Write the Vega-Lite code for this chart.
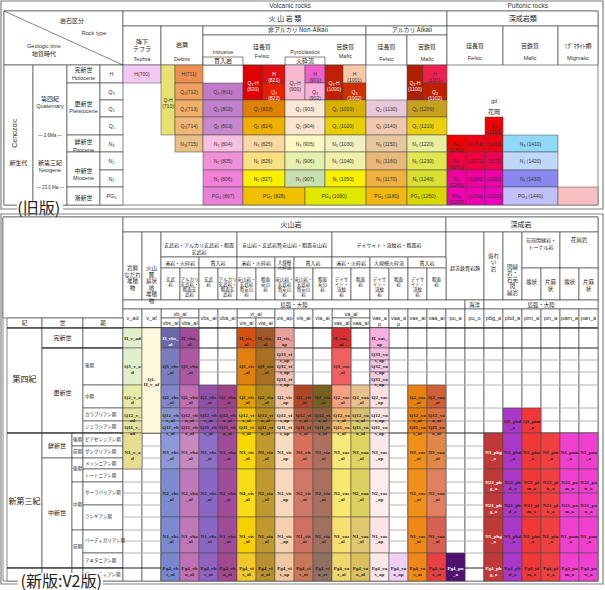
{
"$schema": "https://vega.github.io/schema/vega-lite/v6.json",
"padding": 0,
"spacing": 0,
"bounds": "flush",
"background": "white",
"config": {"view": {"stroke": null}},
"resolve": {"scale": {"x": "independent", "y": "independent", "fill": "independent"}},
"datasets": {
"oBox": [
{"x":0,"x2":22,"y":0,"y2":12},
{"x":0,"x2":4,"y":0,"y2":4},
{"x":4,"x2":17,"y":0,"y2":1},
{"x":17,"x2":22,"y":0,"y2":1},
{"x":4,"x2":5,"y":1,"y2":4},
{"x":5,"x2":7,"y":1,"y2":4},
{"x":7,"x2":14,"y":1,"y2":2},
{"x":14,"x2":17,"y":1,"y2":2},
{"x":7,"x2":14,"y":2,"y2":4},
{"x":7,"x2":8,"y":3,"y2":4},
{"x":10,"x2":12,"y":3,"y2":4},
{"x":14,"x2":15,"y":2,"y2":4},
{"x":15,"x2":17,"y":2,"y2":4},
{"x":17,"x2":20,"y":1,"y2":4},
{"x":20,"x2":21,"y":1,"y2":4},
{"x":21,"x2":22,"y":1,"y2":4},
{"x":0,"x2":1,"y":4,"y2":12},
{"x":1,"x2":2,"y":4,"y2":12},
{"x":2,"x2":3,"y":4,"y2":5},
{"x":2,"x2":3,"y":5,"y2":8},
{"x":2,"x2":3,"y":8,"y2":9},
{"x":2,"x2":3,"y":9,"y2":11},
{"x":2,"x2":3,"y":11,"y2":12},
{"x":3,"x2":4,"y":4,"y2":5},
{"x":3,"x2":4,"y":5,"y2":6},
{"x":3,"x2":4,"y":6,"y2":7},
{"x":3,"x2":4,"y":7,"y2":8},
{"x":3,"x2":4,"y":8,"y2":9},
{"x":3,"x2":4,"y":9,"y2":10},
{"x":3,"x2":4,"y":10,"y2":11},
{"x":3,"x2":4,"y":11,"y2":12}
],
"oCell": [
{"x":4,"x2":5,"y":4,"y2":5,"u":"700","t":"H(700)"},
{"x":5,"x2":6,"y":4,"y2":8,"u":"710","t":"Q-H\n(710)"},
{"x":6,"x2":7,"y":4,"y2":5,"u":"711","t":"H(711)"},
{"x":6,"x2":7,"y":5,"y2":6,"u":"712","t":"Q₃(712)"},
{"x":6,"x2":7,"y":6,"y2":7,"u":"713","t":"Q₂(713)"},
{"x":6,"x2":7,"y":7,"y2":8,"u":"714","t":"Q₁(714)"},
{"x":6,"x2":7,"y":8,"y2":9,"u":"715","t":"N₃(715)"},
{"x":7,"x2":8,"y":5,"y2":6,"u":"801","t":"Q₃ (801)"},
{"x":7,"x2":8,"y":6,"y2":7,"u":"802","t":"Q₂ (802)"},
{"x":7,"x2":8,"y":7,"y2":8,"u":"803","t":"Q₁ (803)"},
{"x":7,"x2":8,"y":8,"y2":9,"u":"804","t":"N₃ (804)"},
{"x":7,"x2":8,"y":9,"y2":10,"u":"805","t":"N₂ (805)"},
{"x":7,"x2":8,"y":10,"y2":11,"u":"806","t":"N₁ (806)"},
{"x":7,"x2":8,"y":11,"y2":12,"u":"807","t":"PG₄ (807)"},
{"x":8,"x2":9,"y":4,"y2":6,"u":"820","t":"Q₃-H\n(820)"},
{"x":9,"x2":10,"y":4,"y2":5,"u":"821","t":"H\n(821)"},
{"x":9,"x2":10,"y":5,"y2":6,"u":"822","t":"Q₃\n(822)"},
{"x":8,"x2":10,"y":6,"y2":7,"u":"823","t":"Q₂ (823)"},
{"x":8,"x2":10,"y":7,"y2":8,"u":"824","t":"Q₁ (824)"},
{"x":8,"x2":10,"y":8,"y2":9,"u":"825","t":"N₃ (825)"},
{"x":8,"x2":10,"y":9,"y2":10,"u":"826","t":"N₂ (826)"},
{"x":8,"x2":10,"y":10,"y2":11,"u":"827","t":"N₁ (827)"},
{"x":8,"x2":11,"y":11,"y2":12,"u":"828","t":"PG₄ (828)"},
{"x":10,"x2":11,"y":4,"y2":6,"u":"900","t":"Q₃-H\n(900)"},
{"x":11,"x2":12,"y":4,"y2":5,"u":"901","t":"H\n(901)"},
{"x":11,"x2":12,"y":5,"y2":6,"u":"902","t":"Q₃\n(902)"},
{"x":10,"x2":12,"y":6,"y2":7,"u":"903","t":"Q₂ (903)"},
{"x":10,"x2":12,"y":7,"y2":8,"u":"904","t":"Q₁ (904)"},
{"x":10,"x2":12,"y":8,"y2":9,"u":"905","t":"N₃ (905)"},
{"x":10,"x2":12,"y":9,"y2":10,"u":"906","t":"N₂ (906)"},
{"x":10,"x2":12,"y":10,"y2":11,"u":"907","t":"N₁ (907)"},
{"x":12,"x2":13,"y":4,"y2":6,"u":"1000","t":"Q₃-H\n(1000)"},
{"x":13,"x2":14,"y":4,"y2":5,"u":"1001","t":"H\n(1001)"},
{"x":13,"x2":14,"y":5,"y2":6,"u":"1002","t":"Q₃\n(1002)"},
{"x":12,"x2":14,"y":6,"y2":7,"u":"1010","t":"Q₂ (1010)"},
{"x":12,"x2":14,"y":7,"y2":8,"u":"1020","t":"Q₁ (1020)"},
{"x":12,"x2":14,"y":8,"y2":9,"u":"1030","t":"N₃ (1030)"},
{"x":12,"x2":14,"y":9,"y2":10,"u":"1040","t":"N₂ (1040)"},
{"x":12,"x2":14,"y":10,"y2":11,"u":"1050","t":"N₁ (1050)"},
{"x":11,"x2":14,"y":11,"y2":12,"u":"1060","t":"PG₄ (1060)"},
{"x":14,"x2":15,"y":6,"y2":7,"u":"1130","t":"Q₂ (1130)"},
{"x":14,"x2":15,"y":7,"y2":8,"u":"1140","t":"Q₁ (1140)"},
{"x":14,"x2":15,"y":8,"y2":9,"u":"1150","t":"N₃ (1150)"},
{"x":14,"x2":15,"y":9,"y2":10,"u":"1160","t":"N₂ (1160)"},
{"x":14,"x2":15,"y":10,"y2":11,"u":"1170","t":"N₁ (1170)"},
{"x":14,"x2":15,"y":11,"y2":12,"u":"1180","t":"PG₄ (1180)"},
{"x":15,"x2":16,"y":4,"y2":6,"u":"1100","t":"Q₃-H\n(1100)"},
{"x":16,"x2":17,"y":4,"y2":5,"u":"1101","t":"H\n(1101)"},
{"x":16,"x2":17,"y":5,"y2":6,"u":"1102","t":"Q₃\n(1102)"},
{"x":15,"x2":17,"y":6,"y2":7,"u":"1200","t":"Q₂ (1200)"},
{"x":15,"x2":17,"y":7,"y2":8,"u":"1210","t":"Q₁ (1210)"},
{"x":15,"x2":17,"y":8,"y2":9,"u":"1220","t":"N₃ (1220)"},
{"x":15,"x2":17,"y":9,"y2":10,"u":"1230","t":"N₂ (1230)"},
{"x":15,"x2":17,"y":10,"y2":11,"u":"1240","t":"N₁ (1240)"},
{"x":15,"x2":17,"y":11,"y2":12,"u":"1250","t":"PG₄ (1250)"},
{"x":19,"x2":20,"y":7,"y2":8,"u":"1263","t":"Q₁\n(1263)"},
{"x":17,"x2":18,"y":8,"y2":9,"u":"1260","t":"N₃\n(1260)"},
{"x":18,"x2":19,"y":8,"y2":9,"u":"1261","t":"(1261)"},
{"x":19,"x2":20,"y":8,"y2":9,"u":"1262","t":"(1262)"},
{"x":17,"x2":18,"y":9,"y2":10,"u":"1270","t":"N₂\n(1270)"},
{"x":18,"x2":19,"y":9,"y2":10,"u":"1271","t":"(1271)"},
{"x":19,"x2":20,"y":9,"y2":10,"u":"1272","t":"(1272)"},
{"x":17,"x2":18,"y":10,"y2":11,"u":"1280","t":"N₁\n(1280)"},
{"x":18,"x2":19,"y":10,"y2":11,"u":"1281","t":"(1281)"},
{"x":19,"x2":20,"y":10,"y2":11,"u":"1282","t":"(1282)"},
{"x":17,"x2":18,"y":11,"y2":12,"u":"1290","t":"PG₄\n(1290)"},
{"x":18,"x2":19,"y":11,"y2":12,"u":"1291","t":"(1291)"},
{"x":19,"x2":20,"y":11,"y2":12,"u":"1292","t":"(1292)"},
{"x":20,"x2":21,"y":8,"y2":9,"u":"1410","t":"N₃  (1410)"},
{"x":20,"x2":21,"y":9,"y2":10,"u":"1420","t":"N₂  (1420)"},
{"x":20,"x2":21,"y":10,"y2":11,"u":"1430","t":"N₁  (1430)"},
{"x":20,"x2":21,"y":11,"y2":12,"u":"1440","t":"PG₄ (1440)"},
{"x":21,"x2":22,"y":11,"y2":12,"u":"mig","t":""}
],
"ot": [
{"x":10.25,"y":-0.5,"t":"Volcanic rocks","k":"T"},
{"x":20.45,"y":-0.5,"t":"Pultonic rocks","k":"T"},
{"x":10,"y":0.53,"t":"火 山 岩 類","k":"H"},
{"x":20.36,"y":0.53,"t":"深成岩類","k":"H"},
{"x":2.15,"y":0.67,"t":"岩石区分","k":"h"},
{"x":2.82,"y":1.78,"t":"Rock type","k":"e"},
{"x":1.32,"y":2.5,"t":"Geologic time","k":"e"},
{"x":1.32,"y":2.86,"t":"地質時代","k":"h"},
{"x":4.5,"y":2.3,"t":"降下","k":"h"},
{"x":4.5,"y":2.64,"t":"テフラ","k":"h"},
{"x":4.5,"y":3.25,"t":"Tephra","k":"e"},
{"x":6.25,"y":2.45,"t":"岩屑","k":"h"},
{"x":6.25,"y":3.25,"t":"Debris","k":"e"},
{"x":10.65,"y":1.4,"t":"非アルカリ Non-Alkali","k":"h"},
{"x":15.31,"y":1.4,"t":"アルカリ Alkali","k":"h"},
{"x":7.5,"y":2.77,"t":"Intrusive","k":"e"},
{"x":7.5,"y":3.5,"t":"貫入岩","k":"h"},
{"x":8.95,"y":2.55,"t":"珪長質","k":"h"},
{"x":8.95,"y":2.95,"t":"Felsic","k":"e"},
{"x":11,"y":2.77,"t":"Pyroclastics","k":"e"},
{"x":11,"y":3.5,"t":"火砕流","k":"h"},
{"x":13.1,"y":2.55,"t":"苦鉄質","k":"h"},
{"x":13.1,"y":2.95,"t":"Mafic","k":"e"},
{"x":14.5,"y":2.55,"t":"珪長質","k":"h"},
{"x":14.5,"y":3.25,"t":"Felsic","k":"e"},
{"x":16.17,"y":2.55,"t":"苦鉄質","k":"h"},
{"x":16.17,"y":3.25,"t":"Mafic","k":"e"},
{"x":18.47,"y":2.5,"t":"珪長質","k":"h"},
{"x":18.47,"y":3.12,"t":"Felsic","k":"e"},
{"x":20.49,"y":2.5,"t":"苦鉄質","k":"h"},
{"x":20.49,"y":3.12,"t":"Mafic","k":"e"},
{"x":21.5,"y":2.5,"t":"ﾐｸﾞﾏﾀｲﾄ類","k":"h"},
{"x":21.5,"y":3.12,"t":"Migmatic","k":"e"},
{"x":2.5,"y":4.28,"t":"完新世","k":"h"},
{"x":2.5,"y":4.72,"t":"Holocene","k":"e"},
{"x":2.5,"y":6.24,"t":"更新世","k":"h"},
{"x":2.5,"y":6.65,"t":"Pleistocene","k":"e"},
{"x":2.5,"y":8.41,"t":"鮮新世","k":"h"},
{"x":2.5,"y":8.88,"t":"Pliocene","k":"e"},
{"x":2.5,"y":10.06,"t":"中新世","k":"h"},
{"x":2.5,"y":10.47,"t":"Miocene","k":"e"},
{"x":2.5,"y":11.6,"t":"漸新世","k":"h"},
{"x":1.5,"y":5.94,"t":"第四紀","k":"h"},
{"x":1.5,"y":6.35,"t":"Quaternary","k":"e"},
{"x":1.5,"y":9.59,"t":"新第三紀","k":"h"},
{"x":1.5,"y":10,"t":"Neogene","k":"e"},
{"x":1.5,"y":8.06,"t":"— 2.6Ma —","k":"s"},
{"x":1.5,"y":11.06,"t":"— 23.0 Ma —","k":"s"},
{"x":0.38,"y":7.9,"t":"Cenozoic","k":"r"},
{"x":0.5,"y":9.59,"t":"新生代","k":"h"},
{"x":3.5,"y":4.5,"t":"H","k":"e"},
{"x":3.5,"y":5.5,"t":"Q₃","k":"e"},
{"x":3.5,"y":6.5,"t":"Q₂","k":"e"},
{"x":3.5,"y":7.5,"t":"Q₁","k":"e"},
{"x":3.5,"y":8.5,"t":"N₃","k":"e"},
{"x":3.5,"y":9.5,"t":"N₂","k":"e"},
{"x":3.5,"y":10.5,"t":"N₁","k":"e"},
{"x":3.5,"y":11.5,"t":"PG₄","k":"e"},
{"x":19.5,"y":6.08,"t":"gd","k":"e"},
{"x":19.5,"y":6.7,"t":"花岡","k":"h"}
],
"nBox": [
{"x":-4,"x2":25,"y":0,"y2":25},
{"x":-4,"x2":0,"y":0,"y2":5},
{"x":0,"x2":17,"y":0,"y2":1},
{"x":17,"x2":25,"y":0,"y2":1},
{"x":0,"x2":1,"y":1,"y2":3},
{"x":1,"x2":2,"y":1,"y2":3},
{"x":2,"x2":6,"y":1,"y2":2},
{"x":6,"x2":11,"y":1,"y2":2},
{"x":11,"x2":17,"y":1,"y2":2},
{"x":17,"x2":19,"y":1,"y2":3},
{"x":19,"x2":20,"y":1,"y2":3},
{"x":20,"x2":21,"y":1,"y2":3},
{"x":21,"x2":23,"y":1,"y2":2.5},
{"x":23,"x2":25,"y":1,"y2":2.5},
{"x":2,"x2":4,"y":2,"y2":2.5},
{"x":4,"x2":6,"y":2,"y2":2.5},
{"x":6,"x2":8,"y":2,"y2":2.5},
{"x":8,"x2":9,"y":2,"y2":2.5},
{"x":9,"x2":11,"y":2,"y2":2.5},
{"x":11,"x2":13,"y":2,"y2":2.5},
{"x":13,"x2":15,"y":2,"y2":2.5},
{"x":15,"x2":17,"y":2,"y2":2.5},
{"x":2,"x2":3,"y":2.5,"y2":3},
{"x":3,"x2":4,"y":2.5,"y2":3},
{"x":4,"x2":5,"y":2.5,"y2":3},
{"x":5,"x2":6,"y":2.5,"y2":3},
{"x":6,"x2":7,"y":2.5,"y2":3},
{"x":7,"x2":8,"y":2.5,"y2":3},
{"x":8,"x2":9,"y":2.5,"y2":3},
{"x":9,"x2":10,"y":2.5,"y2":3},
{"x":10,"x2":11,"y":2.5,"y2":3},
{"x":11,"x2":12,"y":2.5,"y2":3},
{"x":12,"x2":13,"y":2.5,"y2":3},
{"x":13,"x2":14,"y":2.5,"y2":3},
{"x":14,"x2":15,"y":2.5,"y2":3},
{"x":15,"x2":16,"y":2.5,"y2":3},
{"x":16,"x2":17,"y":2.5,"y2":3},
{"x":21,"x2":22,"y":2.5,"y2":3},
{"x":22,"x2":23,"y":2.5,"y2":3},
{"x":23,"x2":24,"y":2.5,"y2":3},
{"x":24,"x2":25,"y":2.5,"y2":3},
{"x":0,"x2":18,"y":3,"y2":4},
{"x":18,"x2":19,"y":3,"y2":4},
{"x":19,"x2":25,"y":3,"y2":4},
{"x":2,"x2":4,"y":4,"y2":5},
{"x":6,"x2":8,"y":4,"y2":5},
{"x":11,"x2":13,"y":4,"y2":5},
{"x":2,"x2":3,"y":5,"y2":6},
{"x":3,"x2":4,"y":5,"y2":6},
{"x":6,"x2":7,"y":5,"y2":6},
{"x":7,"x2":8,"y":5,"y2":6},
{"x":11,"x2":12,"y":5,"y2":6},
{"x":12,"x2":13,"y":5,"y2":6},
{"x":0,"x2":1,"y":4,"y2":6},
{"x":1,"x2":2,"y":4,"y2":6},
{"x":4,"x2":5,"y":4,"y2":6},
{"x":5,"x2":6,"y":4,"y2":6},
{"x":8,"x2":9,"y":4,"y2":6},
{"x":9,"x2":10,"y":4,"y2":6},
{"x":10,"x2":11,"y":4,"y2":6},
{"x":13,"x2":14,"y":4,"y2":6},
{"x":14,"x2":15,"y":4,"y2":6},
{"x":15,"x2":16,"y":4,"y2":6},
{"x":16,"x2":17,"y":4,"y2":6},
{"x":17,"x2":18,"y":4,"y2":6},
{"x":18,"x2":19,"y":4,"y2":6},
{"x":19,"x2":20,"y":4,"y2":6},
{"x":20,"x2":21,"y":4,"y2":6},
{"x":21,"x2":22,"y":4,"y2":6},
{"x":22,"x2":23,"y":4,"y2":6},
{"x":23,"x2":24,"y":4,"y2":6},
{"x":24,"x2":25,"y":4,"y2":6},
{"x":-3,"x2":-2,"y":5,"y2":6},
{"x":-2,"x2":-1,"y":5,"y2":6},
{"x":-1,"x2":0,"y":5,"y2":6},
{"x":-3,"x2":-2,"y":6,"y2":13},
{"x":-3,"x2":-2,"y":13,"y2":24},
{"x":-3,"x2":-2,"y":24,"y2":25},
{"x":-2,"x2":-1,"y":6,"y2":7},
{"x":-1,"x2":0,"y":6,"y2":7},
{"x":-2,"x2":-1,"y":7,"y2":13},
{"x":-1,"x2":0,"y":7,"y2":10},
{"x":-1,"x2":0,"y":10,"y2":11},
{"x":-1,"x2":0,"y":11,"y2":12},
{"x":-1,"x2":0,"y":12,"y2":13},
{"x":-2,"x2":-1.5,"y":13,"y2":15},
{"x":-1.5,"x2":-1,"y":13,"y2":14},
{"x":-1.5,"x2":-1,"y":14,"y2":15},
{"x":-1,"x2":0,"y":13,"y2":14},
{"x":-1,"x2":0,"y":14,"y2":15},
{"x":-2,"x2":-1.5,"y":15,"y2":24},
{"x":-1.5,"x2":-1,"y":15,"y2":17},
{"x":-1.5,"x2":-1,"y":17,"y2":21},
{"x":-1.5,"x2":-1,"y":21,"y2":24},
{"x":-1,"x2":0,"y":15,"y2":16},
{"x":-1,"x2":0,"y":16,"y2":17},
{"x":-1,"x2":0,"y":17,"y2":19},
{"x":-1,"x2":0,"y":19,"y2":21},
{"x":-1,"x2":0,"y":21,"y2":23},
{"x":-1,"x2":0,"y":23,"y2":24},
{"x":-2,"x2":-1.5,"y":24,"y2":25},
{"x":-1.5,"x2":-1,"y":24,"y2":25},
{"x":-1,"x2":0,"y":24,"y2":25},
{"x":0,"x2":1,"y":6,"y2":25},
{"x":1,"x2":2,"y":6,"y2":25},
{"x":2,"x2":3,"y":6,"y2":25},
{"x":3,"x2":4,"y":6,"y2":25},
{"x":4,"x2":5,"y":6,"y2":25},
{"x":5,"x2":6,"y":6,"y2":25},
{"x":6,"x2":7,"y":6,"y2":25},
{"x":7,"x2":8,"y":6,"y2":25},
{"x":8,"x2":9,"y":6,"y2":25},
{"x":9,"x2":10,"y":6,"y2":25},
{"x":10,"x2":11,"y":6,"y2":25},
{"x":11,"x2":12,"y":6,"y2":25},
{"x":12,"x2":13,"y":6,"y2":25},
{"x":13,"x2":14,"y":6,"y2":25},
{"x":14,"x2":15,"y":6,"y2":25},
{"x":15,"x2":16,"y":6,"y2":25},
{"x":16,"x2":17,"y":6,"y2":25},
{"x":17,"x2":18,"y":6,"y2":25},
{"x":18,"x2":19,"y":6,"y2":25},
{"x":19,"x2":20,"y":6,"y2":25},
{"x":20,"x2":21,"y":6,"y2":25},
{"x":21,"x2":22,"y":6,"y2":25},
{"x":22,"x2":23,"y":6,"y2":25},
{"x":23,"x2":24,"y":6,"y2":25},
{"x":24,"x2":25,"y":6,"y2":25}
],
"nGrid": [
{"x":0,"x2":25,"y":8},{"x":0,"x2":25,"y":9},{"x":0,"x2":25,"y":10},{"x":0,"x2":25,"y":11},{"x":0,"x2":25,"y":12},
{"x":0,"x2":25,"y":14},{"x":0,"x2":25,"y":15},{"x":0,"x2":25,"y":16},{"x":0,"x2":25,"y":17},{"x":0,"x2":25,"y":18},
{"x":0,"x2":25,"y":19},{"x":0,"x2":25,"y":20},{"x":0,"x2":25,"y":21},{"x":0,"x2":25,"y":22},{"x":0,"x2":25,"y":23}
],
"nRule": [
{"x":-3,"x2":25,"y":6},{"x":-2,"x2":25,"y":7},{"x":-3,"x2":25,"y":13},{"x":-3,"x2":25,"y":24}
],
"nCell": [
{"x":0,"x2":1,"y":6,"y2":7,"u":"H_v_ad","t":"H_v_ad"},
{"x":0,"x2":1,"y":7,"y2":10,"u":"Q3_v_ad","t":"Q3_v_a\nd"},
{"x":0,"x2":1,"y":10,"y2":11,"u":"Q2_v_ad","t":"Q2_v_a\nd"},
{"x":0,"x2":1,"y":11,"y2":12,"u":"Q12_v_ad","t":"Q12_v_\nad"},
{"x":0,"x2":1,"y":12,"y2":13,"u":"Q11_v_ad","t":"Q11_v_\nad"},
{"x":0,"x2":1,"y":13,"y2":16,"u":"N3_v_ad","t":"N3_v_a\nd"},
{"x":1,"x2":2,"y":6,"y2":13,"u":"Q1-H_v_af","t":"Q1-\nH_v_af"},
{"x":2,"x2":3,"y":6,"y2":7,"u":"H_vbs_al","t":"H_vbs_\nal"},
{"x":2,"x2":3,"y":7,"y2":10,"u":"Q3_vbs_al","t":"Q3_vbs\n_al"},
{"x":2,"x2":3,"y":10,"y2":11,"u":"Q2_vbs_al","t":"Q2_vbs\n_al"},
{"x":2,"x2":3,"y":11,"y2":12,"u":"Q12_vbs_al","t":"Q12_vb\ns_al"},
{"x":2,"x2":3,"y":12,"y2":13,"u":"Q11_vbs_al","t":"Q11_vb\ns_al"},
{"x":2,"x2":3,"y":13,"y2":16,"u":"N3_vbs_al","t":"N3_vbs\n_al"},
{"x":2,"x2":3,"y":16,"y2":20,"u":"N2_vbs_al","t":"N2_vbs\n_al"},
{"x":2,"x2":3,"y":20,"y2":23,"u":"N1_vbs_al","t":"N1_vbs\n_al"},
{"x":2,"x2":3,"y":23,"y2":25,"u":"Pg4_vbs_al","t":"Pg4_vb\ns_al"},
{"x":3,"x2":4,"y":6,"y2":7,"u":"H_vba_al","t":"H_vba_\nal"},
{"x":3,"x2":4,"y":7,"y2":10,"u":"Q3_vba_al","t":"Q3_vba\n_al"},
{"x":3,"x2":4,"y":10,"y2":11,"u":"Q2_vba_al","t":"Q2_vba\n_al"},
{"x":3,"x2":4,"y":11,"y2":12,"u":"Q12_vba_al","t":"Q12_vb\na_al"},
{"x":3,"x2":4,"y":12,"y2":13,"u":"Q11_vba_al","t":"Q11_vb\na_al"},
{"x":3,"x2":4,"y":13,"y2":16,"u":"N3_vba_al","t":"N3_vba\n_al"},
{"x":3,"x2":4,"y":16,"y2":20,"u":"N2_vba_al","t":"N2_vba\n_al"},
{"x":3,"x2":4,"y":20,"y2":23,"u":"N1_vba_al","t":"N1_vba\n_al"},
{"x":3,"x2":4,"y":23,"y2":25,"u":"Pg4_vba_al","t":"Pg4_vb\na_al"},
{"x":4,"x2":5,"y":10,"y2":11,"u":"Q2_vbs_ai","t":"Q2_vbs\n_ai"},
{"x":4,"x2":5,"y":11,"y2":12,"u":"Q12_vbs_ai","t":"Q12_vb\ns_ai"},
{"x":4,"x2":5,"y":12,"y2":13,"u":"Q11_vbs_ai","t":"Q11_vb\ns_ai"},
{"x":4,"x2":5,"y":13,"y2":16,"u":"N3_vbs_ai","t":"N3_vbs\n_ai"},
{"x":4,"x2":5,"y":16,"y2":20,"u":"N2_vbs_ai","t":"N2_vbs\n_ai"},
{"x":4,"x2":5,"y":20,"y2":23,"u":"N1_vbs_ai","t":"N1_vbs\n_ai"},
{"x":4,"x2":5,"y":23,"y2":25,"u":"Pg4_vbs_ai","t":"Pg4_vb\ns_ai"},
{"x":5,"x2":6,"y":10,"y2":11,"u":"Q2_vba_ai","t":"Q2_vba\n_ai"},
{"x":5,"x2":6,"y":11,"y2":12,"u":"Q12_vba_ai","t":"Q12_vb\na_ai"},
{"x":5,"x2":6,"y":12,"y2":13,"u":"Q11_vba_ai","t":"Q11_vb\na_ai"},
{"x":5,"x2":6,"y":13,"y2":16,"u":"N3_vba_ai","t":"N3_vba\n_ai"},
{"x":5,"x2":6,"y":16,"y2":20,"u":"N2_vba_ai","t":"N2_vba\n_ai"},
{"x":5,"x2":6,"y":20,"y2":23,"u":"N1_vba_ai","t":"N1_vba\n_ai"},
{"x":5,"x2":6,"y":23,"y2":25,"u":"Pg4_vba_ai","t":"Pg4_vb\na_ai"},
{"x":6,"x2":7,"y":6,"y2":7,"u":"H_vis_al","t":"H_vis_\nal"},
{"x":6,"x2":7,"y":7,"y2":10,"u":"Q3_vis_al","t":"Q3_vis\n_al"},
{"x":6,"x2":7,"y":10,"y2":11,"u":"Q2_vis_al","t":"Q2_vis\n_al"},
{"x":6,"x2":7,"y":11,"y2":12,"u":"Q12_vis_al","t":"Q12_vi\ns_al"},
{"x":6,"x2":7,"y":12,"y2":13,"u":"Q11_vis_al","t":"Q11_vi\ns_al"},
{"x":6,"x2":7,"y":13,"y2":16,"u":"N3_vis_al","t":"N3_vis\n_al"},
{"x":6,"x2":7,"y":16,"y2":20,"u":"N2_vis_al","t":"N2_vis\n_al"},
{"x":6,"x2":7,"y":20,"y2":23,"u":"N1_vis_al","t":"N1_vis\n_al"},
{"x":6,"x2":7,"y":23,"y2":25,"u":"Pg4_vis_al","t":"Pg4_vi\ns_al"},
{"x":7,"x2":8,"y":6,"y2":7,"u":"H_via_al","t":"H_via_\nal"},
{"x":7,"x2":8,"y":7,"y2":10,"u":"Q3_via_al","t":"Q3_via\n_al"},
{"x":7,"x2":8,"y":10,"y2":11,"u":"Q2_via_al","t":"Q2_via\n_al"},
{"x":7,"x2":8,"y":11,"y2":12,"u":"Q12_via_al","t":"Q12_vi\na_al"},
{"x":7,"x2":8,"y":12,"y2":13,"u":"Q11_via_al","t":"Q11_vi\na_al"},
{"x":7,"x2":8,"y":13,"y2":16,"u":"N3_via_al","t":"N3_via\n_al"},
{"x":7,"x2":8,"y":16,"y2":20,"u":"N2_via_al","t":"N2_via\n_al"},
{"x":7,"x2":8,"y":20,"y2":23,"u":"N1_via_al","t":"N1_via\n_al"},
{"x":7,"x2":8,"y":23,"y2":25,"u":"Pg4_via_al","t":"Pg4_vi\na_al"},
{"x":8,"x2":9,"y":6,"y2":7,"u":"H_vis_ap","t":"H_vis_\nap"},
{"x":8,"x2":9,"y":7,"y2":8,"u":"Q33_vis_ap","t":"Q33_vi\ns_ap"},
{"x":8,"x2":9,"y":8,"y2":9,"u":"Q32_vis_ap","t":"Q32_vi\ns_ap"},
{"x":8,"x2":9,"y":9,"y2":10,"u":"Q31_vis_ap","t":"Q31_vi\ns_ap"},
{"x":8,"x2":9,"y":10,"y2":11,"u":"Q2_vis_ap","t":"Q2_vis\n_ap"},
{"x":8,"x2":9,"y":11,"y2":12,"u":"Q12_vis_ap","t":"Q12_vi\ns_ap"},
{"x":8,"x2":9,"y":12,"y2":13,"u":"Q11_vis_ap","t":"Q11_vi\ns_ap"},
{"x":8,"x2":9,"y":13,"y2":16,"u":"N3_vis_ap","t":"N3_vis\n_ap"},
{"x":8,"x2":9,"y":16,"y2":20,"u":"N2_vis_ap","t":"N2_vis\n_ap"},
{"x":8,"x2":9,"y":20,"y2":23,"u":"N1_vis_ap","t":"N1_vis\n_ap"},
{"x":8,"x2":9,"y":23,"y2":25,"u":"Pg4_vis_ap","t":"Pg4_vi\ns_ap"},
{"x":9,"x2":10,"y":10,"y2":11,"u":"Q2_vis_ai","t":"Q2_vis\n_ai"},
{"x":9,"x2":10,"y":11,"y2":12,"u":"Q12_vis_ai","t":"Q12_vi\ns_ai"},
{"x":9,"x2":10,"y":12,"y2":13,"u":"Q11_vis_ai","t":"Q11_vi\ns_ai"},
{"x":9,"x2":10,"y":13,"y2":16,"u":"N3_vis_ai","t":"N3_vis\n_ai"},
{"x":9,"x2":10,"y":16,"y2":20,"u":"N2_vis_ai","t":"N2_vis\n_ai"},
{"x":9,"x2":10,"y":20,"y2":23,"u":"N1_vis_ai","t":"N1_vis\n_ai"},
{"x":9,"x2":10,"y":23,"y2":25,"u":"Pg4_vis_ai","t":"Pg4_vi\ns_ai"},
{"x":10,"x2":11,"y":10,"y2":11,"u":"Q2_via_ai","t":"Q2_via\n_ai"},
{"x":10,"x2":11,"y":11,"y2":12,"u":"Q12_via_ai","t":"Q12_vi\na_ai"},
{"x":10,"x2":11,"y":12,"y2":13,"u":"Q11_via_ai","t":"Q11_vi\na_ai"},
{"x":10,"x2":11,"y":13,"y2":16,"u":"N3_via_ai","t":"N3_via\n_ai"},
{"x":10,"x2":11,"y":16,"y2":20,"u":"N2_via_ai","t":"N2_via\n_ai"},
{"x":10,"x2":11,"y":20,"y2":23,"u":"N1_via_ai","t":"N1_via\n_ai"},
{"x":10,"x2":11,"y":23,"y2":25,"u":"Pg4_via_ai","t":"Pg4_vi\na_ai"},
{"x":11,"x2":12,"y":6,"y2":7,"u":"H_vas_al","t":"H_vas_\nal"},
{"x":11,"x2":12,"y":7,"y2":10,"u":"Q3_vas_al","t":"Q3_vas\n_al"},
{"x":11,"x2":12,"y":10,"y2":11,"u":"Q2_vas_al","t":"Q2_vas\n_al"},
{"x":11,"x2":12,"y":11,"y2":12,"u":"Q12_vas_al","t":"Q12_va\ns_al"},
{"x":11,"x2":12,"y":12,"y2":13,"u":"Q11_vas_al","t":"Q11_va\ns_al"},
{"x":11,"x2":12,"y":13,"y2":16,"u":"N3_vas_al","t":"N3_vas\n_al"},
{"x":11,"x2":12,"y":16,"y2":20,"u":"N2_vas_al","t":"N2_vas\n_al"},
{"x":11,"x2":12,"y":20,"y2":23,"u":"N1_vas_al","t":"N1_vas\n_al"},
{"x":11,"x2":12,"y":23,"y2":25,"u":"Pg4_vas_al","t":"Pg4_va\ns_al"},
{"x":12,"x2":13,"y":10,"y2":11,"u":"Q2_vaa_al","t":"Q2_vaa\n_al"},
{"x":12,"x2":13,"y":11,"y2":12,"u":"Q12_vaa_al","t":"Q12_va\na_al"},
{"x":12,"x2":13,"y":12,"y2":13,"u":"Q11_vaa_al","t":"Q11_va\na_al"},
{"x":12,"x2":13,"y":13,"y2":16,"u":"N3_vaa_al","t":"N3_vaa\n_al"},
{"x":12,"x2":13,"y":16,"y2":20,"u":"N2_vaa_al","t":"N2_vaa\n_al"},
{"x":12,"x2":13,"y":20,"y2":23,"u":"N1_vaa_al","t":"N1_vaa\n_al"},
{"x":12,"x2":13,"y":23,"y2":25,"u":"Pg4_vaa_al","t":"Pg4_va\na_al"},
{"x":13,"x2":14,"y":6,"y2":7,"u":"H_vas_ap","t":"H_vas_\nap"},
{"x":13,"x2":14,"y":7,"y2":8,"u":"Q33_vas_ap","t":"Q33_va\ns_ap"},
{"x":13,"x2":14,"y":8,"y2":9,"u":"Q32_vas_ap","t":"Q32_va\ns_ap"},
{"x":13,"x2":14,"y":9,"y2":10,"u":"Q31_vas_ap","t":"Q31_va\ns_ap"},
{"x":13,"x2":14,"y":10,"y2":11,"u":"Q2_vas_ap","t":"Q2_vas\n_ap"},
{"x":13,"x2":14,"y":11,"y2":12,"u":"Q12_vas_ap","t":"Q12_va\ns_ap"},
{"x":13,"x2":14,"y":12,"y2":13,"u":"Q11_vas_ap","t":"Q11_va\ns_ap"},
{"x":13,"x2":14,"y":13,"y2":16,"u":"N3_vas_ap","t":"N3_vas\n_ap"},
{"x":13,"x2":14,"y":16,"y2":20,"u":"N2_vas_ap","t":"N2_vas\n_ap"},
{"x":13,"x2":14,"y":20,"y2":23,"u":"N1_vas_ap","t":"N1_vas\n_ap"},
{"x":13,"x2":14,"y":23,"y2":25,"u":"Pg4_vas_ap","t":"Pg4_va\ns_ap"},
{"x":14,"x2":15,"y":23,"y2":25,"u":"Pg4_vaa_ap","t":"Pg4_va\na_ap"},
{"x":15,"x2":16,"y":10,"y2":11,"u":"Q2_vas_ai","t":"Q2_vas\n_ai"},
{"x":15,"x2":16,"y":11,"y2":12,"u":"Q12_vas_ai","t":"Q12_va\ns_ai"},
{"x":15,"x2":16,"y":12,"y2":13,"u":"Q11_vas_ai","t":"Q11_va\ns_ai"},
{"x":15,"x2":16,"y":13,"y2":16,"u":"N3_vas_ai","t":"N3_vas\n_ai"},
{"x":15,"x2":16,"y":16,"y2":20,"u":"N2_vas_ai","t":"N2_vas\n_ai"},
{"x":15,"x2":16,"y":20,"y2":23,"u":"N1_vas_ai","t":"N1_vas\n_ai"},
{"x":15,"x2":16,"y":23,"y2":25,"u":"Pg4_vas_ai","t":"Pg4_va\ns_ai"},
{"x":16,"x2":17,"y":10,"y2":11,"u":"Q2_vaa_ai","t":"Q2_vaa\n_ai"},
{"x":16,"x2":17,"y":11,"y2":12,"u":"Q12_vaa_ai","t":"Q12_va\na_ai"},
{"x":16,"x2":17,"y":12,"y2":13,"u":"Q11_vaa_ai","t":"Q11_va\na_ai"},
{"x":16,"x2":17,"y":13,"y2":16,"u":"N3_vaa_ai","t":"N3_vaa\n_ai"},
{"x":16,"x2":17,"y":16,"y2":20,"u":"N2_vaa_ai","t":"N2_vaa\n_ai"},
{"x":16,"x2":17,"y":20,"y2":23,"u":"N1_vaa_ai","t":"N1_vaa\n_ai"},
{"x":16,"x2":17,"y":23,"y2":25,"u":"Pg4_vaa_ai","t":"Pg4_va\na_ai"},
{"x":17,"x2":18,"y":23,"y2":25,"u":"Pg4_pu_a","t":"Pg4_pu\n_a"},
{"x":19,"x2":20,"y":13,"y2":16,"u":"N3_pbg_a","t":"N3_pbg\n_a"},
{"x":19,"x2":20,"y":16,"y2":18,"u":"N22_pbg_a","t":"N22_pb\ng_a"},
{"x":19,"x2":20,"y":18,"y2":20,"u":"N21_pbg_a","t":"N21_pb\ng_a"},
{"x":19,"x2":20,"y":20,"y2":23,"u":"N1_pbg_a","t":"N1_pbg\n_a"},
{"x":19,"x2":20,"y":23,"y2":25,"u":"Pg4_pbg_a","t":"Pg4_pb\ng_a"},
{"x":20,"x2":21,"y":11,"y2":13,"u":"Q1_pbd_a","t":"Q1_pbd\n_a"},
{"x":20,"x2":21,"y":13,"y2":16,"u":"N3_pbd_a","t":"N3_pbd\n_a"},
{"x":20,"x2":21,"y":16,"y2":18,"u":"N22_pbd_a","t":"N22_pb\nd_a"},
{"x":20,"x2":21,"y":18,"y2":20,"u":"N21_pbd_a","t":"N21_pb\nd_a"},
{"x":20,"x2":21,"y":20,"y2":23,"u":"N1_pbd_a","t":"N1_pbd\n_a"},
{"x":20,"x2":21,"y":23,"y2":25,"u":"Pg4_pbd_a","t":"Pg4_pb\nd_a"},
{"x":21,"x2":22,"y":11,"y2":13,"u":"Q1_pim_a","t":"Q1_pim\n_a"},
{"x":21,"x2":22,"y":13,"y2":16,"u":"N3_pim_a","t":"N3_pim\n_a"},
{"x":21,"x2":22,"y":16,"y2":18,"u":"N22_pim_a","t":"N22_pi\nm_a"},
{"x":21,"x2":22,"y":18,"y2":20,"u":"N21_pim_a","t":"N21_pi\nm_a"},
{"x":21,"x2":22,"y":20,"y2":23,"u":"N1_pim_a","t":"N1_pim\n_a"},
{"x":21,"x2":22,"y":23,"y2":25,"u":"Pg4_pim_a","t":"Pg4_pi\nm_a"},
{"x":22,"x2":23,"y":13,"y2":16,"u":"N3_pin_a","t":"N3_pin\n_a"},
{"x":22,"x2":23,"y":16,"y2":18,"u":"N22_pin_a","t":"N22_pi\nn_a"},
{"x":22,"x2":23,"y":18,"y2":20,"u":"N21_pin_a","t":"N21_pi\nn_a"},
{"x":22,"x2":23,"y":20,"y2":23,"u":"N1_pin_a","t":"N1_pin\n_a"},
{"x":22,"x2":23,"y":23,"y2":25,"u":"Pg4_pin_a","t":"Pg4_pi\nn_a"},
{"x":23,"x2":24,"y":13,"y2":16,"u":"N3_pam_a","t":"N3_pam\n_a"},
{"x":23,"x2":24,"y":16,"y2":18,"u":"N22_pam_a","t":"N22_pa\nm_a"},
{"x":23,"x2":24,"y":18,"y2":20,"u":"N21_pam_a","t":"N21_pa\nm_a"},
{"x":23,"x2":24,"y":20,"y2":23,"u":"N1_pam_a","t":"N1_pam\n_a"},
{"x":23,"x2":24,"y":23,"y2":25,"u":"Pg4_pam_a","t":"Pg4_pa\nm_a"},
{"x":24,"x2":25,"y":13,"y2":16,"u":"N3_pan_a","t":"N3_pan\n_a"},
{"x":24,"x2":25,"y":16,"y2":18,"u":"N22_pan_a","t":"N22_pa\nn_a"},
{"x":24,"x2":25,"y":18,"y2":20,"u":"N21_pan_a","t":"N21_pa\nn_a"},
{"x":24,"x2":25,"y":20,"y2":23,"u":"N1_pan_a","t":"N1_pan\n_a"},
{"x":24,"x2":25,"y":23,"y2":25,"u":"Pg4_pan_a","t":"Pg4_pa\nn_a"}
],
"nt": [
{"x":8.84,"y":0.5,"t":"火山岩","k":"H"},
{"x":20.95,"y":0.5,"t":"深成岩","k":"H"},
{"x":0.5,"y":2.5,"t":"岩屑\nなだれ\n堆積\n物","k":"h"},
{"x":1.5,"y":2.5,"t":"火山\n麓\n扇状\n地\n堆積\n物","k":"h"},
{"x":4,"y":1.5,"t":"玄武岩・アルカリ玄武岩・粗面\n玄武岩","k":"g"},
{"x":8.5,"y":1.5,"t":"安山岩・玄武岩質安山岩・粗面安山岩","k":"g"},
{"x":14,"y":1.5,"t":"デイサイト・流紋岩・粗面岩","k":"g"},
{"x":18,"y":2.5,"t":"超苦鉄質岩類","k":"g"},
{"x":19.5,"y":1.95,"t":"斑れ\nい\n岩","k":"h"},
{"x":20.5,"y":2.45,"t":"閃緑\n岩・\n石英\n閃\n緑岩","k":"h"},
{"x":22,"y":1.32,"t":"花崗閃緑岩・\nトーナル岩","k":"g"},
{"x":24,"y":1.32,"t":"花崗岩","k":"h"},
{"x":3,"y":2.25,"t":"溶岩・火砕岩","k":"g"},
{"x":5,"y":2.25,"t":"貫入岩","k":"g"},
{"x":7,"y":2.25,"t":"溶岩・火砕岩","k":"g"},
{"x":8.5,"y":2.25,"t":"大規模\n火砕流","k":"d"},
{"x":10,"y":2.25,"t":"貫入岩","k":"g"},
{"x":12,"y":2.25,"t":"溶岩・火砕岩","k":"g"},
{"x":14,"y":2.25,"t":"大規模火砕流","k":"g"},
{"x":16,"y":2.25,"t":"貫入岩","k":"g"},
{"x":2.5,"y":2.68,"t":"玄武\n岩","k":"d"},
{"x":3.5,"y":2.68,"t":"アルカリ\n玄武岩・\n粗面玄\n武岩","k":"d"},
{"x":4.5,"y":2.68,"t":"玄武\n岩","k":"d"},
{"x":5.5,"y":2.68,"t":"アルカリ\n玄武岩・\n粗面玄\n武岩","k":"d"},
{"x":6.5,"y":2.68,"t":"安山岩・\n玄武岩\n質安山\n岩","k":"d"},
{"x":7.5,"y":2.68,"t":"粗面\n安山\n岩","k":"d"},
{"x":8.5,"y":2.68,"t":"安山岩・\n玄武岩\n質安山\n岩","k":"d"},
{"x":9.5,"y":2.68,"t":"安山岩・\n玄武岩\n質安山\n岩","k":"d"},
{"x":10.5,"y":2.68,"t":"粗面\n安山\n岩","k":"d"},
{"x":11.5,"y":2.68,"t":"デイサ\nイト・\n流紋\n岩","k":"d"},
{"x":12.5,"y":2.68,"t":"粗面\n岩","k":"d"},
{"x":13.5,"y":2.68,"t":"デイサ\nイト・\n流紋\n岩","k":"d"},
{"x":14.5,"y":2.68,"t":"粗面\n岩","k":"d"},
{"x":15.5,"y":2.68,"t":"デイサ\nイト・\n流紋\n岩","k":"d"},
{"x":16.5,"y":2.68,"t":"粗面\n岩","k":"d"},
{"x":21.5,"y":2.72,"t":"塊状","k":"h"},
{"x":22.5,"y":2.72,"t":"片麻\n状","k":"h"},
{"x":23.5,"y":2.72,"t":"塊状","k":"h"},
{"x":24.5,"y":2.72,"t":"片麻\n状","k":"h"},
{"x":9,"y":3.56,"t":"島弧・大陸","k":"h"},
{"x":18.5,"y":3.56,"t":"海洋","k":"h"},
{"x":22,"y":3.56,"t":"島弧・大陸","k":"h"},
{"x":3,"y":4.5,"t":"vb_al","k":"c"},
{"x":7,"y":4.5,"t":"vi_al","k":"c"},
{"x":12,"y":4.5,"t":"va_al","k":"c"},
{"x":2.5,"y":5.5,"t":"vbs_al","k":"c"},
{"x":3.5,"y":5.5,"t":"vba_al","k":"c"},
{"x":6.5,"y":5.5,"t":"vis_al","k":"c"},
{"x":7.5,"y":5.5,"t":"via_al","k":"c"},
{"x":11.5,"y":5.5,"t":"vas_al","k":"c"},
{"x":12.5,"y":5.5,"t":"vaa_al","k":"c"},
{"x":0.5,"y":5,"t":"v_ad","k":"c"},
{"x":1.5,"y":5,"t":"v_af","k":"c"},
{"x":4.5,"y":5,"t":"vbs_ai","k":"c"},
{"x":5.5,"y":5,"t":"vba_ai","k":"c"},
{"x":8.5,"y":5,"t":"vis_ap","k":"c"},
{"x":9.5,"y":5,"t":"vis_ai","k":"c"},
{"x":10.5,"y":5,"t":"via_ai","k":"c"},
{"x":13.5,"y":5,"t":"vas_a\np","k":"c"},
{"x":14.5,"y":5,"t":"vaa_a\np","k":"c"},
{"x":15.5,"y":5,"t":"vas_ai","k":"c"},
{"x":16.5,"y":5,"t":"vaa_ai","k":"c"},
{"x":17.5,"y":5,"t":"pu_a","k":"c"},
{"x":18.5,"y":5,"t":"pu_o","k":"c"},
{"x":19.5,"y":5,"t":"pbg_a","k":"c"},
{"x":20.5,"y":5,"t":"pbd_a","k":"c"},
{"x":21.5,"y":5,"t":"pim_a","k":"c"},
{"x":22.5,"y":5,"t":"pin_a","k":"c"},
{"x":23.5,"y":5,"t":"pam_a","k":"c"},
{"x":24.5,"y":5,"t":"pan_a","k":"c"},
{"x":-2.5,"y":5.5,"t":"紀","k":"h"},
{"x":-1.66,"y":5.5,"t":"世","k":"h"},
{"x":-0.5,"y":5.5,"t":"期","k":"h"},
{"x":-2.5,"y":9.6,"t":"第四紀","k":"b"},
{"x":-2.5,"y":18.75,"t":"新第三紀","k":"b"},
{"x":-1.66,"y":6.5,"t":"完新世","k":"e"},
{"x":-1.66,"y":10.35,"t":"更新世","k":"e"},
{"x":-1.75,"y":14,"t":"鮮新世","k":"e"},
{"x":-1.75,"y":19.67,"t":"中新世","k":"e"},
{"x":-1.25,"y":13.5,"t":"後期","k":"s"},
{"x":-1.25,"y":14.5,"t":"前期","k":"s"},
{"x":-1.25,"y":16,"t":"後期","k":"s"},
{"x":-1.25,"y":19,"t":"中期","k":"s"},
{"x":-1.25,"y":22.5,"t":"前期","k":"s"},
{"x":-0.95,"y":8.5,"t":"後期","k":"l"},
{"x":-0.95,"y":10.5,"t":"中期","k":"l"},
{"x":-0.95,"y":11.5,"t":"カラブリアン期","k":"l"},
{"x":-0.95,"y":12.5,"t":"ジェラシアン期","k":"l"},
{"x":-0.95,"y":13.5,"t":"ピアセンジアン期","k":"l"},
{"x":-0.95,"y":14.5,"t":"ザンクリアン期","k":"l"},
{"x":-0.95,"y":15.5,"t":"メッシニアン期","k":"l"},
{"x":-0.95,"y":16.5,"t":"トートニアン期","k":"l"},
{"x":-0.95,"y":18,"t":"サーラバリアン期","k":"l"},
{"x":-0.95,"y":20,"t":"ランギアン期","k":"l"},
{"x":-0.95,"y":22,"t":"バーディガリアン期","k":"l"},
{"x":-0.95,"y":23.5,"t":"アキタニアン期","k":"l"},
{"x":-0.95,"y":24.5,"t":"チャッティアン期","k":"l"}
]
},
"vconcat": [
{
"width": 605, "height": 212,
"encoding": {
 "x": {"field": "x", "type": "quantitative", "axis": null, "scale": {"domain": [-1,0,1,2,3,4,5,6,7,8,9,10,11,12,13,14,15,16,17,18,19,20,21,22,23], "range": [1,4,33,67,100,123,161,175,203,243,263,285,305,325,343,366,407,423,447,466,485,503,558,598,603], "zero": false, "nice": false}},
 "y": {"field": "y", "type": "quantitative", "axis": null, "scale": {"domain": [-1,0,1,2,3,4,5,6,7,8,9,10,11,12,13,14], "range": [1,11,26,35,57,65,83,100,117,135,152,170,187,205,209,216], "zero": false, "nice": false}}
},
"layer": [
 {"data": {"values": [{"x":-1,"x2":23,"y":-1,"y2":13}]}, "mark": {"type": "rect", "fill": "white", "stroke": "#808080", "strokeWidth": 1.2}, "encoding": {"x2": {"field": "x2"}, "y2": {"field": "y2"}}},
 {"data": {"name": "oBox"}, "mark": {"type": "rect", "fill": "white", "stroke": "#333333", "strokeWidth": 0.6}, "encoding": {"x2": {"field": "x2"}, "y2": {"field": "y2"}}},
 {"data": {"values": [{"x":0,"y":0,"x2":4,"y2":4}]}, "mark": {"type": "rule", "stroke": "#333333", "strokeWidth": 0.6}, "encoding": {"x2": {"field": "x2"}, "y2": {"field": "y2"}}},
 {"data": {"name": "oCell"}, "mark": {"type": "rect", "stroke": "#444444", "strokeWidth": 0.5},
  "encoding": {"x2": {"field": "x2"}, "y2": {"field": "y2"},
   "fill": {"field": "u", "type": "nominal", "legend": null, "scale": {
    "domain": ["700","710","711","712","713","714","715","801","802","803","804","805","806","807","820","821","822","823","824","825","826","827","828","900","901","902","903","904","905","906","907","1000","1001","1002","1010","1020","1030","1040","1050","1060","1130","1140","1150","1160","1170","1180","1100","1101","1102","1200","1210","1220","1230","1240","1250","1263","1260","1261","1262","1270","1271","1272","1280","1281","1282","1290","1291","1292","1410","1420","1430","1440","mig"],
    "range": ["#f4c8f4","#e8e070","#f09050","#f0a060","#f0b068","#f0b878","#e8c088","#c078c8","#c080cc","#c888d0","#f8c0e0","#f090d8","#f080d8","#e880d8","#e00000","#e01010","#e82000","#e08000","#f0b000","#f8d8a0","#f8e080","#f8f000","#f0c000","#f8b8d0","#f060c8","#f8b0d8","#fde8d8","#fde4cc","#fff8c0","#e4f0b0","#c8e0b0","#c02000","#f8c8a8","#d03000","#d8b000","#e8d000","#f0f0c0","#f0f0a8","#f8f000","#e0e800","#e8c8d8","#f0c8b0","#e8c8a0","#e8b878","#f0b040","#f0b810","#b02000","#f02050","#c02000","#c8a020","#e8d010","#e8f0a0","#e0e850","#d8e030","#d8d800","#f00000","#f00000","#f00010","#f00010","#f00040","#f00040","#f00050","#f000a0","#f000a0","#f000a8","#f000b0","#f000b0","#f000b8","#90d8f8","#c0d8f8","#8888f0","#c0c0f8","#f8c0c0"]}}}},
 {"data": {"name": "oCell"},
  "transform": [{"fold": ["x","x2"], "as": ["kx","vx"]}, {"fold": ["y","y2"], "as": ["ky","vy"]}, {"aggregate": [{"op": "mean", "field": "vx", "as": "cx"}, {"op": "mean", "field": "vy", "as": "cy"}], "groupby": ["u","t"]}],
  "mark": {"type": "text", "font": "Liberation Sans, DejaVu Sans", "fontSize": 5, "align": "center", "baseline": "middle", "lineBreak": "\n", "lineHeight": 6},
  "encoding": {
   "x": {"field": "cx", "type": "quantitative", "axis": null, "scale": {"domain": [-1,0,1,2,3,4,5,6,7,8,9,10,11,12,13,14,15,16,17,18,19,20,21,22,23], "range": [1,4,33,67,100,123,161,175,203,243,263,285,305,325,343,366,407,423,447,466,485,503,558,598,603], "zero": false, "nice": false}},
   "y": {"field": "cy", "type": "quantitative", "axis": null, "scale": {"domain": [-1,0,1,2,3,4,5,6,7,8,9,10,11,12,13,14], "range": [1,11,26,35,57,65,83,100,117,135,152,170,187,205,209,216], "zero": false, "nice": false}},
   "text": {"field": "t"},
   "color": {"condition": {"test": "indexof(['820','821','822','1000','1002','1100','1102'], datum.u) >= 0", "value": "#ffffff"}, "value": "#333333"}}},
 {"data": {"name": "ot"}, "transform": [{"filter": "datum.k == 'T'"}], "mark": {"type": "text", "font": "Liberation Sans", "fontSize": 6.5, "color": "#333333", "align": "center", "baseline": "middle"}, "encoding": {"text": {"field": "t"}}},
 {"data": {"name": "ot"}, "transform": [{"filter": "datum.k == 'H'"}], "mark": {"type": "text", "font": "Noto Sans CJK JP", "fontSize": 7, "color": "#222222", "align": "center", "baseline": "middle"}, "encoding": {"text": {"field": "t"}}},
 {"data": {"name": "ot"}, "transform": [{"filter": "datum.k == 'h'"}], "mark": {"type": "text", "font": "Noto Sans CJK JP", "fontSize": 6, "color": "#222222", "align": "center", "baseline": "middle"}, "encoding": {"text": {"field": "t"}}},
 {"data": {"name": "ot"}, "transform": [{"filter": "datum.k == 'e'"}], "mark": {"type": "text", "font": "Liberation Sans, DejaVu Sans", "fontSize": 5.5, "color": "#333333", "align": "center", "baseline": "middle"}, "encoding": {"text": {"field": "t"}}},
 {"data": {"name": "ot"}, "transform": [{"filter": "datum.k == 's'"}], "mark": {"type": "text", "font": "Liberation Sans", "fontSize": 4.5, "color": "#333333", "align": "center", "baseline": "middle"}, "encoding": {"text": {"field": "t"}}},
 {"data": {"name": "ot"}, "transform": [{"filter": "datum.k == 'r'"}], "mark": {"type": "text", "font": "Liberation Sans", "fontSize": 7, "angle": 270, "color": "#333333", "align": "center", "baseline": "middle"}, "encoding": {"text": {"field": "t"}}},
 {"data": {"values": [{"x":0.45,"x2":1.88,"y":11.83,"y2":14}]}, "mark": {"type": "rect", "fill": "white"}, "encoding": {"x2": {"field": "x2"}, "y2": {"field": "y2"}}},
 {"data": {"values": [{"x":1.17,"y":13,"t":"(旧版)"}]}, "mark": {"type": "text", "font": "Noto Sans CJK JP", "fontSize": 16, "color": "#222222", "align": "center", "baseline": "middle"}, "encoding": {"text": {"field": "t"}}}
]
},
{
"width": 605, "height": 378,
"encoding": {
 "x": {"field": "x", "type": "quantitative", "axis": null, "scale": {"domain": [-5,-4,-3,-2,-1.5,-1,0,25,26], "range": [1,3,7,42,72,83,123,598,603], "zero": false, "nice": false}},
 "y": {"field": "y", "type": "quantitative", "axis": null, "scale": {"domain": [-1,0,1,2,2.5,3,4,5,6,7,8,9,10,11,12,13,14,15,16,17,18,19,20,21,22,23,24,25,26,27], "range": [2,5,20,45,56,88,97,106,116,136,148,160,173,196,209,221,234,246,257,270,281,293,305,318,329,341,356,369,372,378], "zero": false, "nice": false}}
},
"layer": [
 {"data": {"values": [{"x":-5,"x2":26,"y":-1,"y2":26}]}, "mark": {"type": "rect", "fill": "transparent", "stroke": "#808080", "strokeWidth": 1.2}, "encoding": {"x2": {"field": "x2"}, "y2": {"field": "y2"}}},
 {"data": {"name": "nBox"}, "mark": {"type": "rect", "fill": "white", "stroke": "#333333", "strokeWidth": 0.6}, "encoding": {"x2": {"field": "x2"}, "y2": {"field": "y2"}}},
 {"data": {"name": "nGrid"}, "mark": {"type": "rule", "stroke": "#b4b4b4", "strokeWidth": 1}, "encoding": {"x2": {"field": "x2"}}},
 {"data": {"name": "nRule"}, "mark": {"type": "rule", "stroke": "#222222", "strokeWidth": 1}, "encoding": {"x2": {"field": "x2"}}},
 {"data": {"name": "nCell"}, "mark": {"type": "rect", "stroke": "#444444", "strokeWidth": 0.5},
  "encoding": {"x2": {"field": "x2"}, "y2": {"field": "y2"},
   "fill": {"field": "u", "type": "nominal", "legend": null, "scale": {
    "domain": ["H_v_ad","Q3_v_ad","Q2_v_ad","Q12_v_ad","Q11_v_ad","N3_v_ad","Q1-H_v_af",
     "H_vbs_al","Q3_vbs_al","Q2_vbs_al","Q12_vbs_al","Q11_vbs_al","N3_vbs_al","N2_vbs_al","N1_vbs_al","Pg4_vbs_al",
     "H_vba_al","Q3_vba_al","Q2_vba_al","Q12_vba_al","Q11_vba_al","N3_vba_al","N2_vba_al","N1_vba_al","Pg4_vba_al",
     "Q2_vbs_ai","Q12_vbs_ai","Q11_vbs_ai","N3_vbs_ai","N2_vbs_ai","N1_vbs_ai","Pg4_vbs_ai",
     "Q2_vba_ai","Q12_vba_ai","Q11_vba_ai","N3_vba_ai","N2_vba_ai","N1_vba_ai","Pg4_vba_ai",
     "H_vis_al","Q3_vis_al","Q2_vis_al","Q12_vis_al","Q11_vis_al","N3_vis_al","N2_vis_al","N1_vis_al","Pg4_vis_al",
     "H_via_al","Q3_via_al","Q2_via_al","Q12_via_al","Q11_via_al","N3_via_al","N2_via_al","N1_via_al","Pg4_via_al",
     "H_vis_ap","Q33_vis_ap","Q32_vis_ap","Q31_vis_ap","Q2_vis_ap","Q12_vis_ap","Q11_vis_ap","N3_vis_ap","N2_vis_ap","N1_vis_ap","Pg4_vis_ap",
     "Q2_vis_ai","Q12_vis_ai","Q11_vis_ai","N3_vis_ai","N2_vis_ai","N1_vis_ai","Pg4_vis_ai",
     "Q2_via_ai","Q12_via_ai","Q11_via_ai","N3_via_ai","N2_via_ai","N1_via_ai","Pg4_via_ai",
     "H_vas_al","Q3_vas_al","Q2_vas_al","Q12_vas_al","Q11_vas_al","N3_vas_al","N2_vas_al","N1_vas_al","Pg4_vas_al",
     "Q2_vaa_al","Q12_vaa_al","Q11_vaa_al","N3_vaa_al","N2_vaa_al","N1_vaa_al","Pg4_vaa_al",
     "H_vas_ap","Q33_vas_ap","Q32_vas_ap","Q31_vas_ap","Q2_vas_ap","Q12_vas_ap","Q11_vas_ap","N3_vas_ap","N2_vas_ap","N1_vas_ap","Pg4_vas_ap",
     "Pg4_vaa_ap",
     "Q2_vas_ai","Q12_vas_ai","Q11_vas_ai","N3_vas_ai","N2_vas_ai","N1_vas_ai","Pg4_vas_ai",
     "Q2_vaa_ai","Q12_vaa_ai","Q11_vaa_ai","N3_vaa_ai","N2_vaa_ai","N1_vaa_ai","Pg4_vaa_ai",
     "Pg4_pu_a",
     "N3_pbg_a","N22_pbg_a","N21_pbg_a","N1_pbg_a","Pg4_pbg_a",
     "Q1_pbd_a","N3_pbd_a","N22_pbd_a","N21_pbd_a","N1_pbd_a","Pg4_pbd_a",
     "Q1_pim_a","N3_pim_a","N22_pim_a","N21_pim_a","N1_pim_a","Pg4_pim_a",
     "N3_pin_a","N22_pin_a","N21_pin_a","N1_pin_a","Pg4_pin_a",
     "N3_pam_a","N22_pam_a","N21_pam_a","N1_pam_a","Pg4_pam_a",
     "N3_pan_a","N22_pan_a","N21_pan_a","N1_pan_a","Pg4_pan_a"],
    "range": ["#e2efcc","#e2efcc","#e8eba8","#e4e4a0","#e4e4a0","#e8dc90","#fff8dc",
     "#6a68a8","#7a7cbc","#8088c8","#8896d0","#8896d0","#8c98d8","#7c8ad0","#7c8ad0","#7888cc",
     "#a04c98","#ac58a0","#c070b0","#c070b0","#c070b0","#c888c0","#c078b8","#c078b8","#c070b4",
     "#9050a8","#9058b0","#9058b0","#8c70c8","#8868c4","#8868c4","#9064c0",
     "#a04488","#a04890","#a04890","#a04c98","#a04c98","#a04c98","#a04890",
     "#d85010","#e08010","#e0a000","#f0c010","#f0c010","#f8d800","#f8dc18","#f8d000","#f0c828",
     "#a05828","#a87020","#b08820","#b89020","#b89020","#c0982c","#c09830","#c09830","#b89030",
     "#e8a098","#eab0a8","#ecb8b0","#eec0b8","#f4c8b0","#f4d0b4","#f8d8b8","#f8dcc0","#f8d8bc","#f4d0b0","#f0c8a0",
     "#b04828","#b05c40","#b06048","#d8705c","#d07868","#d07060","#c87858",
     "#786020","#906040","#986848","#b07060","#a87060","#a07060","#907060",
     "#d83030","#f06060","#f8a080","#f0b070","#f0c070","#f8e878","#f8e870","#f8e070","#f0d870",
     "#e8c090","#d8c070","#d8cc70","#e0d460","#dcd060","#e0c870","#dcc060",
     "#f8b0e0","#f4c0e0","#f0c8e0","#f0d0e0","#f8e0e0","#f8e4e0","#fae8e0","#fce8e8","#fcecec","#fce4e4","#fce8e8",
     "#f0d0f4",
     "#e88010","#e88010","#e88010","#f09018","#f09018","#f08818","#f08818",
     "#d06038","#d87040","#d87040","#e08848","#e08060","#d86050","#e84040",
     "#501070",
     "#c03838","#c03838","#c03838","#c03838","#c03838",
     "#a838c8","#a838c8","#a838c8","#a838c8","#a838c8","#a838c8",
     "#f03838","#f03838","#f03838","#f03838","#f03838","#f03838",
     "#f04040","#f04040","#f04040","#f04040","#f04040",
     "#f040d0","#f040d0","#f040d0","#f040d0","#f040d0",
     "#f040d0","#f040d0","#f040d0","#f040d0","#f040d0"]}}}},
 {"data": {"name": "nCell"},
  "transform": [{"fold": ["x","x2"], "as": ["kx","vx"]}, {"fold": ["y","y2"], "as": ["ky","vy"]}, {"aggregate": [{"op": "mean", "field": "vx", "as": "cx"}, {"op": "mean", "field": "vy", "as": "cy"}], "groupby": ["u","t"]}],
  "mark": {"type": "text", "font": "Liberation Serif", "fontWeight": "bold", "fontSize": 5, "align": "center", "baseline": "middle", "lineBreak": "\n", "lineHeight": 5.5},
  "encoding": {
   "x": {"field": "cx", "type": "quantitative", "axis": null, "scale": {"domain": [-5,-4,-3,-2,-1.5,-1,0,25,26], "range": [1,3,7,42,72,83,123,598,603], "zero": false, "nice": false}},
   "y": {"field": "cy", "type": "quantitative", "axis": null, "scale": {"domain": [-1,0,1,2,2.5,3,4,5,6,7,8,9,10,11,12,13,14,15,16,17,18,19,20,21,22,23,24,25,26,27], "range": [2,5,20,45,56,88,97,106,116,136,148,160,173,196,209,221,234,246,257,270,281,293,305,318,329,341,356,369,372,378], "zero": false, "nice": false}},
   "text": {"field": "t"},
   "color": {"condition": {"test": "indexof(datum.u, 'pbg') >= 0 || datum.u == 'Pg4_pu_a' || datum.u == 'H_vbs_al'", "value": "#ffffff"}, "value": "#222222"}}},
 {"data": {"name": "nt"}, "transform": [{"filter": "datum.k == 'H'"}], "mark": {"type": "text", "font": "Noto Sans CJK JP", "fontSize": 7, "color": "#222222", "align": "center", "baseline": "middle", "lineBreak": "\n"}, "encoding": {"text": {"field": "t"}}},
 {"data": {"name": "nt"}, "transform": [{"filter": "datum.k == 'h'"}], "mark": {"type": "text", "font": "Noto Sans CJK JP", "fontSize": 5.5, "color": "#222222", "align": "center", "baseline": "middle", "lineBreak": "\n", "lineHeight": 6.5}, "encoding": {"text": {"field": "t"}}},
 {"data": {"name": "nt"}, "transform": [{"filter": "datum.k == 'g'"}], "mark": {"type": "text", "font": "Noto Sans CJK JP", "fontSize": 5, "color": "#222222", "align": "center", "baseline": "middle", "lineBreak": "\n", "lineHeight": 7}, "encoding": {"text": {"field": "t"}}},
 {"data": {"name": "nt"}, "transform": [{"filter": "datum.k == 'd'"}], "mark": {"type": "text", "font": "Noto Sans CJK JP", "fontSize": 4.5, "color": "#222222", "align": "center", "baseline": "middle", "lineBreak": "\n", "lineHeight": 5}, "encoding": {"text": {"field": "t"}}},
 {"data": {"name": "nt"}, "transform": [{"filter": "datum.k == 'c'"}], "mark": {"type": "text", "font": "Liberation Sans", "fontSize": 5.5, "color": "#222222", "align": "center", "baseline": "middle", "lineBreak": "\n", "lineHeight": 6}, "encoding": {"text": {"field": "t"}}},
 {"data": {"name": "nt"}, "transform": [{"filter": "datum.k == 'b'"}], "mark": {"type": "text", "font": "Noto Sans CJK JP", "fontSize": 8, "color": "#222222", "align": "center", "baseline": "middle"}, "encoding": {"text": {"field": "t"}}},
 {"data": {"name": "nt"}, "transform": [{"filter": "datum.k == 'e'"}], "mark": {"type": "text", "font": "Noto Sans CJK JP", "fontSize": 6, "color": "#222222", "align": "center", "baseline": "middle"}, "encoding": {"text": {"field": "t"}}},
 {"data": {"name": "nt"}, "transform": [{"filter": "datum.k == 's'"}], "mark": {"type": "text", "font": "Noto Sans CJK JP", "fontSize": 4.5, "color": "#222222", "align": "center", "baseline": "middle"}, "encoding": {"text": {"field": "t"}}},
 {"data": {"name": "nt"}, "transform": [{"filter": "datum.k == 'l'"}], "mark": {"type": "text", "font": "Noto Sans CJK JP", "fontSize": 4.5, "color": "#222222", "align": "left", "baseline": "middle"}, "encoding": {"text": {"field": "t"}}},
 {"data": {"values": [{"x":-2.69,"x2":-0.5,"y":24.38,"y2":27}]}, "mark": {"type": "rect", "fill": "white"}, "encoding": {"x2": {"field": "x2"}, "y2": {"field": "y2"}}},
 {"data": {"values": [{"x":-1.68,"y":25.3,"t":"(新版:V2版)"}]}, "mark": {"type": "text", "font": "Noto Sans CJK JP", "fontSize": 16, "color": "#222222", "align": "center", "baseline": "middle"}, "encoding": {"text": {"field": "t"}}}
]
}
]
}
